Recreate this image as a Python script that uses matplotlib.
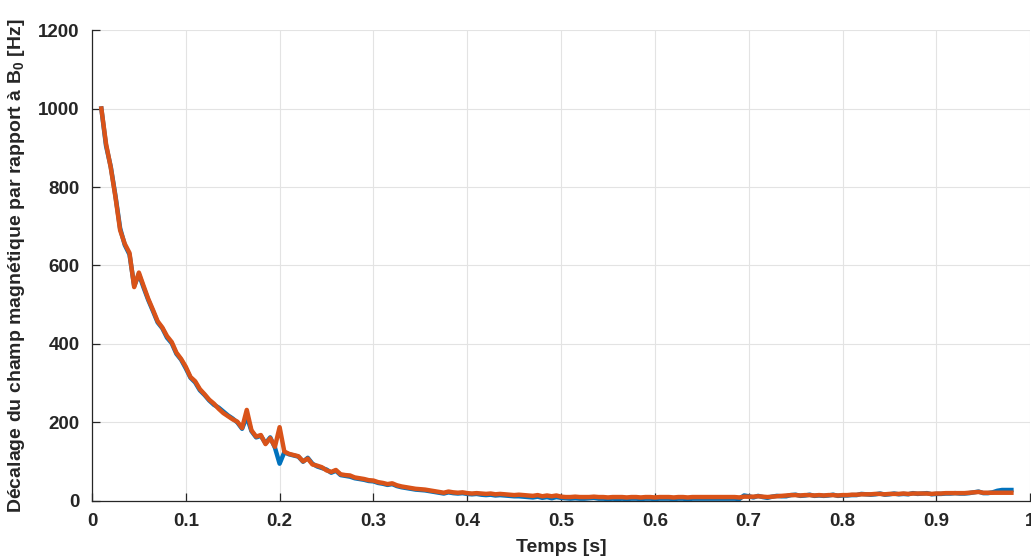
import matplotlib.pyplot as plt
import numpy as np

plt.rcParams['font.family'] = ['Liberation Sans', 'DejaVu Sans']
plt.rcParams['mathtext.fontset'] = 'custom'
plt.rcParams['mathtext.bf'] = 'Liberation Sans:bold'
plt.rcParams['mathtext.rm'] = 'Liberation Sans:bold'

# temps [s], pas de 0.005 s
t_start = 0.01
t_step = 0.005

# courbe orange (estimée)
orange = [1000, 910, 850, 775, 690, 655, 632, 545, 582, 548,
          515, 487, 458, 442, 420, 405, 378, 362, 342, 316,
          305, 285, 272, 258, 248, 235, 224, 216, 208, 202,
          186, 232, 180, 164, 168, 145, 160, 138, 188, 126,
          120, 117, 114, 101, 108, 93, 90, 86, 78, 74,
          79, 68, 66, 65, 60, 58, 56, 53, 52, 48,
          46, 43, 45, 40, 37, 35, 33, 31, 30, 29,
          27, 25, 23, 21, 24, 22, 21, 22, 20, 19,
          20, 19, 18, 19, 17, 18, 17, 16, 15, 16,
          15, 14, 13, 15, 12, 14, 12, 14, 11, 10,
          10, 11, 10, 10, 10, 11, 10, 10, 9, 10,
          10, 10, 9, 10, 10, 9, 10, 10, 9, 10,
          10, 10, 9, 10, 10, 9, 10, 10, 10, 10,
          10, 10, 10, 10, 10, 10, 9, 11, 11, 11,
          12, 11, 10, 11, 12, 13, 14, 15, 15, 14,
          15, 15, 14, 15, 14, 15, 15, 14, 15, 15,
          16, 16, 17, 17, 17, 18, 18, 17, 18, 18,
          18, 19, 18, 19, 19, 19, 19, 18, 19, 19,
          20, 20, 20, 20, 20, 21, 22, 23, 21, 21,
          21, 21, 21, 21, 21]

# courbe bleue (estimée)
blue = [1000, 905, 852, 778, 695, 652, 628, 548, 578, 544,
        512, 484, 455, 440, 416, 402, 375, 360, 338, 314,
        302, 282, 270, 256, 245, 238, 228, 218, 210, 200,
        184, 215, 178, 162, 166, 147, 162, 136, 95, 124,
        119, 116, 113, 100, 110, 95, 88, 84, 80, 72,
        77, 66, 64, 62, 58, 56, 54, 51, 50, 46,
        44, 41, 43, 38, 35, 33, 31, 29, 28, 27,
        25, 23, 21, 19, 22, 20, 19, 20, 18, 17,
        18, 16, 15, 16, 14, 15, 14, 13, 12, 12,
        11, 10, 9, 11, 8, 10, 7, 10, 8, 7,
        6, 7, 6, 6, 7, 8, 6, 6, 5, 6,
        5, 6, 5, 6, 6, 5, 6, 6, 5, 6,
        6, 6, 5, 6, 6, 4, 6, 6, 6, 6,
        6, 6, 6, 6, 6, 6, 5, 14, 12, 9,
        13, 10, 8, 11, 13, 12, 12, 15, 16, 13,
        14, 16, 13, 14, 13, 14, 16, 13, 14, 14,
        15, 15, 18, 17, 16, 17, 19, 16, 17, 19,
        17, 18, 17, 20, 18, 19, 20, 17, 18, 18,
        19, 19, 20, 19, 19, 20, 22, 24, 20, 20,
        22, 26, 28, 28, 28]

t = t_start + t_step * np.arange(len(orange))

fig = plt.figure(figsize=(10.31, 5.6), dpi=100)
ax = fig.add_axes([0.0892, 0.1054, 0.91, 0.841])

ax.plot(t, blue, color='#0072BD', lw=3.2)
ax.plot(t, orange, color='#D95319', lw=3.2)

ax.set_xlim(0, 1)
ax.set_ylim(0, 1200)
ax.set_xticks(np.arange(0, 1.01, 0.1))
ax.set_xticklabels(['0', '0.1', '0.2', '0.3', '0.4', '0.5', '0.6', '0.7', '0.8', '0.9', '1'])
ax.set_yticks(np.arange(0, 1201, 200))

ax.grid(True, color='#e3e3e3', lw=0.8)
ax.set_axisbelow(True)
for s in ['top', 'right']:
    ax.spines[s].set_visible(False)
for s in ['left', 'bottom']:
    ax.spines[s].set_color('#262626')
    ax.spines[s].set_linewidth(0.9)

ax.tick_params(direction='in', length=6, width=0.9, color='#262626',
               labelcolor='#262626', labelsize=13.5)
ax.tick_params(axis='x', pad=9)
ax.tick_params(axis='y', pad=9)
for lab in ax.get_xticklabels() + ax.get_yticklabels():
    lab.set_fontweight('bold')

ax.set_xlabel('Temps [s]', fontsize=14, fontweight='bold', color='#262626', labelpad=6)
ax.set_ylabel(r'Décalage du champ magnétique par rapport à B$_\mathbf{0}$ [Hz]',
              fontsize=14, fontweight='bold', color='#262626', labelpad=8)

fig.savefig('out.png', dpi=100)
